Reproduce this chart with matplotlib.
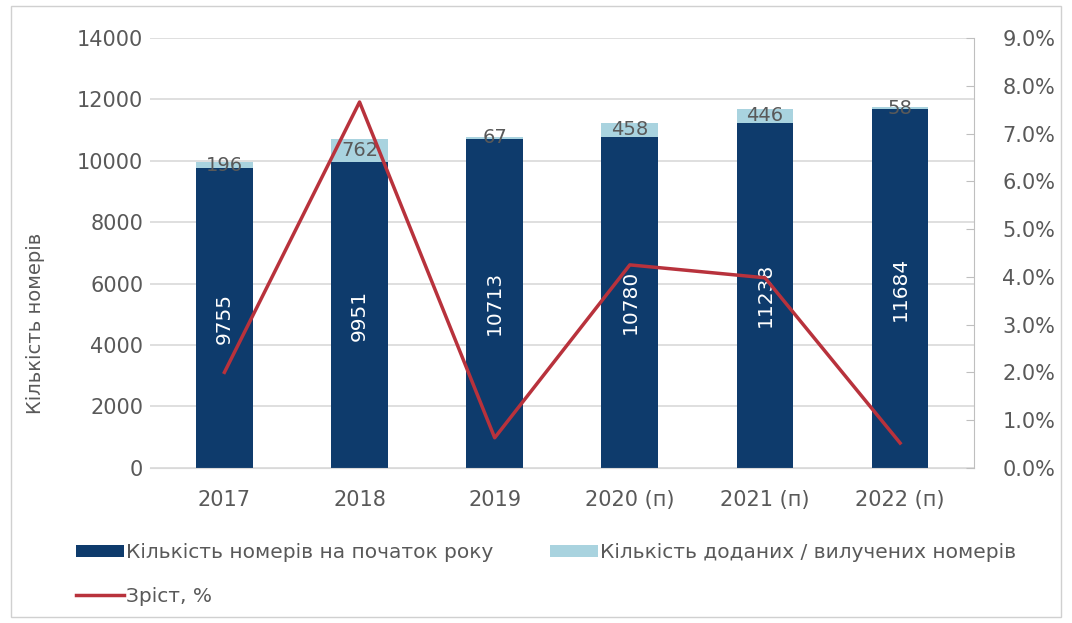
"""Stacked bars of phone numbers per year with growth line on a secondary axis."""

import matplotlib.pyplot as plt
from matplotlib.patches import Rectangle
from matplotlib.ticker import FuncFormatter, MultipleLocator

years = ["2017", "2018", "2019", "2020 (п)", "2021 (п)", "2022 (п)"]
numbers_start = [9755, 9951, 10713, 10780, 11238, 11684]
numbers_added = [196, 762, 67, 458, 446, 58]
growth_pct = [2.0, 7.66, 0.63, 4.25, 3.98, 0.52]

DARK = "#0e3b6c"
LIGHT = "#a9d3df"
RED = "#b8323c"
TEXT = "#595959"
GRID = "#d9d9d9"

plt.rcParams["font.family"] = ["DejaVu Sans"]

fig = plt.figure(figsize=(10.72, 6.23), dpi=100)
ax = fig.add_axes([0.14, 0.249, 0.769, 0.69])
ax2 = ax.twinx()

x = list(range(len(years)))
bars_start = ax.bar(x, numbers_start, width=0.42, color=DARK, label="Кількість номерів на початок року", zorder=2)
bars_added = ax.bar(x, numbers_added, width=0.42, bottom=numbers_start, color=LIGHT,
                    label="Кількість доданих / вилучених номерів", zorder=2)

for i, (base, add) in enumerate(zip(numbers_start, numbers_added)):
    ax.text(i, base / 2, str(base), rotation=90, ha="center", va="center",
            color="white", fontsize=14.5, zorder=3)
    ax.text(i, base + add / 2, str(add), ha="center", va="center",
            color=TEXT, fontsize=14, zorder=3)

line, = ax2.plot(x, growth_pct, color=RED, linewidth=2.5, label="Зріст, %", zorder=4)

ax.set_ylim(0, 14000)
ax.set_xlim(-0.55, len(years) - 0.45)
ax.yaxis.set_major_locator(MultipleLocator(2000))
ax.grid(axis="y", color=GRID, linewidth=1.2, zorder=0)
ax.set_xticks(x)
ax.set_xticklabels(years)
ax.tick_params(axis="both", length=0, colors=TEXT, labelsize=15)
ax.tick_params(axis="x", pad=16)
ax.tick_params(axis="y", pad=5)
ax.set_ylabel("Кількість номерів", color=TEXT, fontsize=14)
ax.yaxis.set_label_coords(-0.127, 0.337)
for side in ("left", "top", "right"):
    ax.spines[side].set_visible(False)
ax.spines["bottom"].set_color(GRID)

ax2.set_ylim(0, 9)
ax2.yaxis.set_major_locator(MultipleLocator(1))
ax2.yaxis.set_major_formatter(FuncFormatter(lambda v, _: f"{v:.1f}%"))
ax2.tick_params(axis="y", direction="in", length=6, color="#bfbfbf", colors=TEXT, labelsize=15, pad=20)
for side in ("left", "top", "bottom"):
    ax2.spines[side].set_visible(False)
ax2.spines["right"].set_color("#bfbfbf")
ax2.set_zorder(ax.get_zorder() + 1)
ax2.patch.set_visible(False)

fig.legend(handles=[bars_start, line, bars_added], ncol=2, loc="upper left",
           bbox_to_anchor=(0.054, 0.158), frameon=False, fontsize=14.5, labelcolor=TEXT,
           handlelength=2.4, handleheight=0.55, handletextpad=0.1, columnspacing=2.8,
           labelspacing=1.25)

fig.patches.append(Rectangle((0.01, 0.01), 0.98, 0.98, transform=fig.transFigure,
                             fill=False, edgecolor="#d0d0d0", linewidth=1))

fig.savefig("out.png", dpi=100)
